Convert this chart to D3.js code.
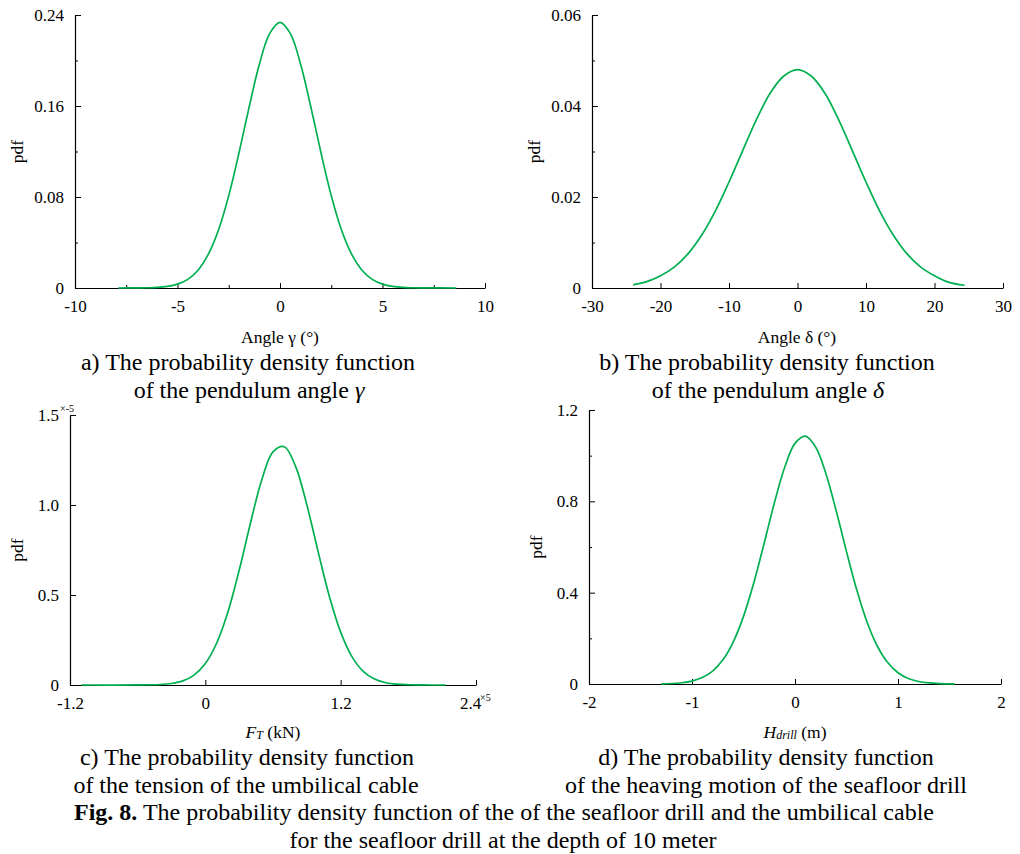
<!DOCTYPE html>
<html>
<head>
<meta charset="utf-8">
<script src="https://cdn.jsdelivr.net/npm/d3@7"></script>
<style>
  html, body { margin: 0; padding: 0; background: #ffffff; }
  svg { display: block; }
  text { font-family: "Liberation Serif", "Times New Roman", serif; fill: #000; }
</style>
</head>
<body>
<svg id="chart" width="1020" height="854"></svg>
<script>
// ---------- DATA ----------
// Panel a: pendulum angle gamma (deg) vs pdf
const gammaAngle = [-7.9,-7,-6.5,-6,-5.5,-5,-4.5,-4,-3.5,-3,-2.5,-2,-1.5,-1,-0.5,0,0.5,1,1.5,2,2.5,3,3.5,4,4.5,5,5.5,6,6.5,7,8.6];
const gammaPdf   = [0,0.0001,0.0002,0.0005,0.0014,0.0034,0.0076,0.0156,0.0295,0.0510,0.0812,0.1188,0.1596,0.1972,0.2238,0.2335,0.2238,0.1972,0.1596,0.1188,0.0812,0.0510,0.0295,0.0156,0.0076,0.0034,0.0014,0.0005,0.0002,0.0001,0];

// Panel b: pendulum angle delta (deg) vs pdf
const deltaAngle = [-24,-22,-20,-18,-16,-14,-12,-10,-8,-6,-4,-2,0,2,4,6,8,10,12,14,16,18,20,22,24.4];
const deltaPdf   = [0.0007,0.0014,0.0027,0.0046,0.0075,0.0116,0.0169,0.0233,0.0302,0.0370,0.0428,0.0466,0.0480,0.0466,0.0428,0.0370,0.0302,0.0233,0.0169,0.0116,0.0075,0.0046,0.0027,0.0013,0.0006];

// Panel c: tension of umbilical cable (x1e5 kN) vs pdf (x1e-5)
const tension    = [-1.1,-0.6,-0.4,-0.3,-0.2,-0.1,0,0.1,0.2,0.3,0.4,0.5,0.6,0.7,0.8,0.9,1.0,1.1,1.2,1.3,1.4,1.5,1.6,1.7,1.8,1.9,2.0,2.13];
const tensionPdf = [0,0.0002,0.0028,0.0085,0.0227,0.0549,0.1191,0.2320,0.4057,0.6372,0.8988,1.1387,1.2954,1.3236,1.2146,1.0010,0.7408,0.4922,0.2939,0.1575,0.0758,0.0328,0.0127,0.0044,0.0014,0.0004,0.0001,0];

// Panel d: heaving motion of the seafloor drill (m) vs pdf
const heave    = [-1.3,-1.2,-1.1,-1.0,-0.9,-0.8,-0.7,-0.6,-0.5,-0.4,-0.3,-0.2,-0.1,0,0.1,0.2,0.3,0.4,0.5,0.6,0.7,0.8,0.9,1.0,1.1,1.2,1.3,1.4,1.55];
const heavePdf = [0.0008,0.0022,0.0055,0.0129,0.0280,0.0565,0.1057,0.1836,0.2961,0.4432,0.6155,0.7934,0.9491,1.0537,1.0856,1.0380,0.9211,0.7587,0.5799,0.4114,0.2707,0.1654,0.0938,0.0494,0.0241,0.0109,0.0046,0.0018,0.0004];

// Tick values / labels
const aXTicks = [-10,-5,0,5,10],  aXMinor = [-7.5,-2.5,2.5,7.5];
const aYTicks = [0,0.08,0.16,0.24], aYMinor = [0.04,0.12,0.20];
const bXTicks = [-30,-20,-10,0,10,20,30];
const bYTicks = [0,0.02,0.04,0.06], bYMinor = [0.01,0.03,0.05];
const cXTicks = [-1.2,0,1.2,2.4];
const cYTicks = [0,0.5,1.0,1.5];
const dXTicks = [-2,-1,0,1,2];
const dYTicks = [0,0.4,0.8,1.2], dYMinor = [0.2,0.6,1.0];

// ---------- DRAWING ----------
const svg = d3.select("#chart");
const GREEN = "#00b050";
const TICK_FONT = 17;
const hyph = s => s.replace("\u2212", "-");

function panel(cfg) {
  const g = svg.append("g");
  const x = d3.scaleLinear().domain(cfg.xDomain).range([cfg.left, cfg.right]);
  const y = d3.scaleLinear().domain(cfg.yDomain).range([cfg.bottom, cfg.top]);

  // x axis (ticks pointing up, inside)
  const xa = g.append("g").attr("class", "xaxis").attr("transform", `translate(0,${cfg.bottom})`)
    .call(d3.axisBottom(x).tickValues(cfg.xTicks).tickSizeInner(-5).tickSizeOuter(0)
      .tickPadding(12).tickFormat(d => hyph(cfg.xFmt(d))));
  if (cfg.xMinor) {
    g.append("g").attr("transform", `translate(0,${cfg.bottom})`)
      .call(d3.axisBottom(x).tickValues(cfg.xMinor).tickSizeInner(-3).tickSizeOuter(0).tickFormat(""))
      .call(s => s.select(".domain").remove());
  }
  // y axis (ticks pointing right, inside)
  g.append("g").attr("transform", `translate(${cfg.left},0)`)
    .call(d3.axisLeft(y).tickValues(cfg.yTicks).tickSizeInner(-6).tickSizeOuter(0)
      .tickPadding(11).tickFormat(d => hyph(cfg.yFmt(d))));
  if (cfg.yMinor) {
    g.append("g").attr("transform", `translate(${cfg.left},0)`)
      .call(d3.axisLeft(y).tickValues(cfg.yMinor).tickSizeInner(-3).tickSizeOuter(0).tickFormat(""))
      .call(s => s.select(".domain").remove());
  }
  g.selectAll(".tick text").attr("font-size", TICK_FONT)
    .attr("font-family", '"Liberation Serif", "Times New Roman", serif').attr("fill", "#000");
  g.selectAll(".tick line").attr("stroke", "#000").attr("stroke-width", 1);
  g.selectAll(".domain").attr("stroke", "#000").attr("stroke-width", 1.2);

  // curve
  const pts = cfg.xs.map((v, i) => [v, cfg.ys[i]]);
  g.append("path").datum(pts)
    .attr("fill", "none").attr("stroke", GREEN).attr("stroke-width", 1.7)
    .attr("d", d3.line().x(d => x(d[0])).y(d => y(Math.max(0, d[1]))).curve(d3.curveCatmullRom.alpha(0.5)));

  // y label
  g.append("text").attr("transform", `translate(${cfg.pdfX},${(cfg.top + cfg.bottom) / 2}) rotate(-90)`)
    .attr("text-anchor", "middle").attr("dy", "0.35em").attr("font-size", 17.5).text("pdf");
  return { g, x, y, xa };
}

const fmtY = d => (d === 0 ? "0" : d3.format(".2f")(d));
const fmt1 = d => (d === 0 ? "0" : d3.format(".1f")(d));

const pa = panel({ left: 75, right: 485, top: 15, bottom: 288, xDomain: [-10, 10], yDomain: [0, 0.24],
  xTicks: aXTicks, xMinor: aXMinor, yTicks: aYTicks, yMinor: aYMinor,
  xFmt: d => String(d), yFmt: fmtY, xs: gammaAngle, ys: gammaPdf, pdfX: 17 });

const pb = panel({ left: 592, right: 1003, top: 15, bottom: 288, xDomain: [-30, 30], yDomain: [0, 0.06],
  xTicks: bXTicks, yTicks: bYTicks, yMinor: bYMinor,
  xFmt: d => String(d), yFmt: fmtY, xs: deltaAngle, ys: deltaPdf, pdfX: 534 });

const pc = panel({ left: 70, right: 476, top: 415, bottom: 685, xDomain: [-1.2, 2.4], yDomain: [0, 1.5],
  xTicks: cXTicks, yTicks: cYTicks,
  xFmt: fmt1, yFmt: fmt1, xs: tension, ys: tensionPdf, pdfX: 17 });

const pd = panel({ left: 589, right: 1001, top: 410, bottom: 684, xDomain: [-2, 2], yDomain: [0, 1.2],
  xTicks: dXTicks, yTicks: dYTicks, yMinor: dYMinor,
  xFmt: d => String(d), yFmt: fmt1, xs: heave, ys: heavePdf, pdfX: 536 });

// the "2.4" label shares its slot with the x-multiplier, so it sits a little left
pc.xa.selectAll(".tick").filter(d => d === 2.4).select("text").attr("x", -6);

// scale multipliers on panel c
pc.g.append("text").attr("x", pc.x(-1.2) - 10).attr("y", pc.y(1.5) - 3)
  .attr("font-size", 10).text("×-5");
pc.g.append("text").attr("x", pc.x(2.4) + 4).attr("y", pc.y(0) + 16)
  .attr("font-size", 10).text("×5");

// ---------- TEXTS ----------
function addText(x, y, size, parts, anchor = "middle") {
  const t = svg.append("text").attr("x", x).attr("y", y).attr("font-size", size).attr("text-anchor", anchor);
  parts.forEach(p => {
    const s = t.append("tspan").text(p.t);
    if (p.italic) s.attr("font-style", "italic");
    if (p.bold) s.attr("font-weight", "bold");
    if (p.size) s.attr("font-size", p.size);
    if (p.dy) s.attr("dy", p.dy);
  });
  return t;
}

// axis titles
const AX = 17.5;
addText(280, 343, AX, [{ t: "Angle γ (°)" }]);
addText(797, 343, AX, [{ t: "Angle δ (°)" }]);
addText(273, 738, AX, [{ t: "F", italic: true }, { t: "T", italic: true, size: 12, dy: "1" }, { t: " (kN)", dy: "-1" }]);
addText(795, 738, AX, [{ t: "H", italic: true }, { t: "drill", italic: true, size: 12, dy: "1" }, { t: " (m)", dy: "-1" }]);

// sub-captions
const CAP = 24;
addText(248, 370, CAP, [{ t: "a) The probability density function" }]);
addText(249, 398, CAP, [{ t: "of the pendulum angle " }, { t: "γ", italic: true }]);
addText(767, 370, CAP, [{ t: "b) The probability density function" }]);
addText(768, 398, CAP, [{ t: "of the pendulum angle " }, { t: "δ", italic: true }]);
addText(247, 765, CAP, [{ t: "c) The probability density function" }]);
addText(246, 793, CAP, [{ t: "of the tension of the umbilical cable" }]);
addText(766, 765, CAP, [{ t: "d) The probability density function" }]);
addText(766, 793, CAP, [{ t: "of the heaving motion of the seafloor drill" }]);

// figure caption
addText(504, 820, CAP, [{ t: "Fig. 8.", bold: true }, { t: " The probability density function of the of the seafloor drill and the umbilical cable" }]);
addText(503, 848, CAP, [{ t: "for the seafloor drill at the depth of 10 meter" }]);
</script>
</body>
</html>
